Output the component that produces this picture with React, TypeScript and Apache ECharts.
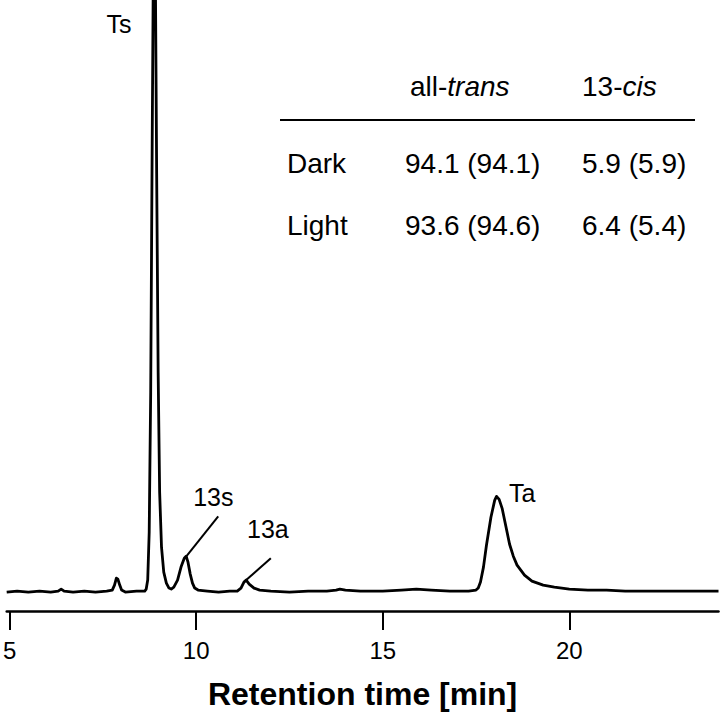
import React, { useEffect, useRef } from "react";
import * as echarts from "echarts";

// Retention time (min) and detector signal (arbitrary units)
const TIME = [
  4.92, 5.2, 5.5, 5.8, 6.1, 6.3, 6.38, 6.46, 6.7, 7.0, 7.3, 7.6, 7.75, 7.81, 7.86, 7.9, 7.95, 8.0, 8.1, 8.4,
  8.62, 8.66, 8.7, 8.74, 8.78, 8.82, 8.86, 8.9, 8.94, 8.98, 9.02, 9.07, 9.13, 9.2, 9.27, 9.33, 9.4, 9.5, 9.6,
  9.68, 9.73, 9.78, 9.84, 9.9, 9.96, 10.05, 10.3, 10.6, 10.9, 11.1, 11.2, 11.28, 11.34, 11.42, 11.55, 11.7,
  12.0, 12.5, 13.0, 13.5, 13.75, 13.85, 14.0, 14.4, 15.0, 15.5, 15.9, 16.3, 16.8, 17.3, 17.5, 17.56, 17.62,
  17.7, 17.78, 17.9, 18.0, 18.05, 18.12, 18.2, 18.3, 18.4, 18.5, 18.6, 18.8, 19.0, 19.3, 19.6, 20.0, 20.5,
  21.0, 21.5, 22.0, 23.0, 24.0,
];
const SIGNAL = [
  0, 1, 0, 1, 0, 1, 3, 1, 0, 1, 0, 1, 2, 7, 14, 13, 7, 2, 0, 1,
  1, 3, 12, 60, 200, 450, 680, 650, 420, 220, 100, 45, 20, 9, 4, 3, 5, 12, 26,
  34, 36, 30, 18, 9, 4, 2, 1, 0, 1, 1, 4, 10, 12, 8, 4, 2,
  1, 0, 1, 1, 2, 3, 2, 1, 1, 2, 3, 2, 1, 1, 2, 4, 10,
  25, 47, 75, 92, 96, 93, 84, 66, 48, 36, 27, 17, 11, 7, 5, 3, 2,
  2, 1, 1, 1, 1,
];

const X_TICKS = [5, 10, 15, 20];
const X_TITLE = "Retention time [min]";

// Peak annotations (anchor in data coordinates)
const PEAK_NAMES = ["Ts", "13s", "13a", "Ta"];
const PEAK_LABEL_T = [7.93, 10.46, 11.92, 18.74];
const PEAK_LABEL_V = [570, 95, 63, 99];
const LEADER_FROM = [[9.74, 36], [11.34, 12]];
const LEADER_TO = [[10.59, 76], [12.0, 34]];

// Inset table
const TABLE_ROWS = ["Dark", "Light"];
const ALL_TRANS = ["94.1 (94.1)", "93.6 (94.6)"];
const CIS_13 = ["5.9 (5.9)", "6.4 (5.4)"];

const FONT = '"Liberation Sans", Arial, Helvetica, sans-serif';

export default function App() {
  const ref = useRef<HTMLDivElement>(null);

  useEffect(() => {
    document.body.style.margin = "0";
    if (!ref.current) return;
    const chart = echarts.init(ref.current, null, { renderer: "svg" });

    const data = TIME.map((t, i) => [t, SIGNAL[i]]);
    const tableFont = 28;
    const rowY = [163, 225];

    const graphics: any[] = [
      {
        type: "text",
        left: 410,
        top: 88 - 16,
        style: {
          text: "{n|all-}{i|trans}",
          rich: {
            n: { fontFamily: FONT, fontSize: tableFont, fill: "#000" },
            i: { fontFamily: FONT, fontSize: tableFont, fontStyle: "italic", fill: "#000" },
          },
        },
      },
      {
        type: "text",
        left: 582,
        top: 88 - 16,
        style: {
          text: "{n|13-}{i|cis}",
          rich: {
            n: { fontFamily: FONT, fontSize: tableFont, fill: "#000" },
            i: { fontFamily: FONT, fontSize: tableFont, fontStyle: "italic", fill: "#000" },
          },
        },
      },
      {
        type: "line",
        shape: { x1: 280, y1: 120, x2: 695, y2: 120 },
        style: { stroke: "#000", lineWidth: 2 },
      },
    ];
    TABLE_ROWS.forEach((r, i) => {
      graphics.push(
        { type: "text", x: 287, y: rowY[i], style: { text: r, fontFamily: FONT, fontSize: tableFont, fill: "#000", verticalAlign: "middle" } },
        { type: "text", x: 405, y: rowY[i], style: { text: ALL_TRANS[i], fontFamily: FONT, fontSize: tableFont, fill: "#000", verticalAlign: "middle" } },
        { type: "text", x: 582, y: rowY[i], style: { text: CIS_13[i], fontFamily: FONT, fontSize: tableFont, fill: "#000", verticalAlign: "middle" } }
      );
    });

    chart.setOption({
      animation: false,
      backgroundColor: "#fff",
      grid: { left: 2, right: 1.5, top: 0, bottom: 102, containLabel: false },
      xAxis: {
        type: "value",
        min: 4.92,
        max: 24.0,
        name: X_TITLE,
        nameLocation: "middle",
        nameGap: 67,
        nameTextStyle: { fontFamily: FONT, fontSize: 32, fontWeight: "bold", color: "#000" },
        axisLine: { show: true, onZero: false, lineStyle: { color: "#000", width: 2.5 } },
        axisTick: { show: true, length: 19, lineStyle: { color: "#000", width: 2 }, customValues: X_TICKS },
        axisLabel: { show: true, margin: 27, fontFamily: FONT, fontSize: 24, color: "#000", customValues: X_TICKS },
        splitLine: { show: false },
      },
      yAxis: {
        type: "value",
        min: -19,
        max: 594,
        show: false,
        splitLine: { show: false },
      },
      series: [
        {
          type: "line",
          data,
          showSymbol: false,
          symbol: "none",
          smooth: false,
          clip: true,
          lineStyle: { color: "#000", width: 2.8, join: "round" },
          markLine: {
            silent: true,
            symbol: ["none", "none"],
            label: { show: false },
            lineStyle: { color: "#000", width: 2, type: "solid" },
            data: LEADER_FROM.map((f, i) => [{ coord: f }, { coord: LEADER_TO[i] }]),
          },
          markPoint: {
            silent: true,
            symbol: "rect",
            symbolSize: 0,
            label: {
              show: true,
              position: "inside",
              formatter: "{b}",
              fontFamily: FONT,
              fontSize: 25,
              color: "#000",
            },
            data: PEAK_NAMES.map((n, i) => ({ name: n, coord: [PEAK_LABEL_T[i], PEAK_LABEL_V[i]] })),
          },
        },
      ],
      graphic: graphics,
    });

    return () => chart.dispose();
  }, []);

  return <div ref={ref} style={{ width: 720, height: 715 }} />;
}
